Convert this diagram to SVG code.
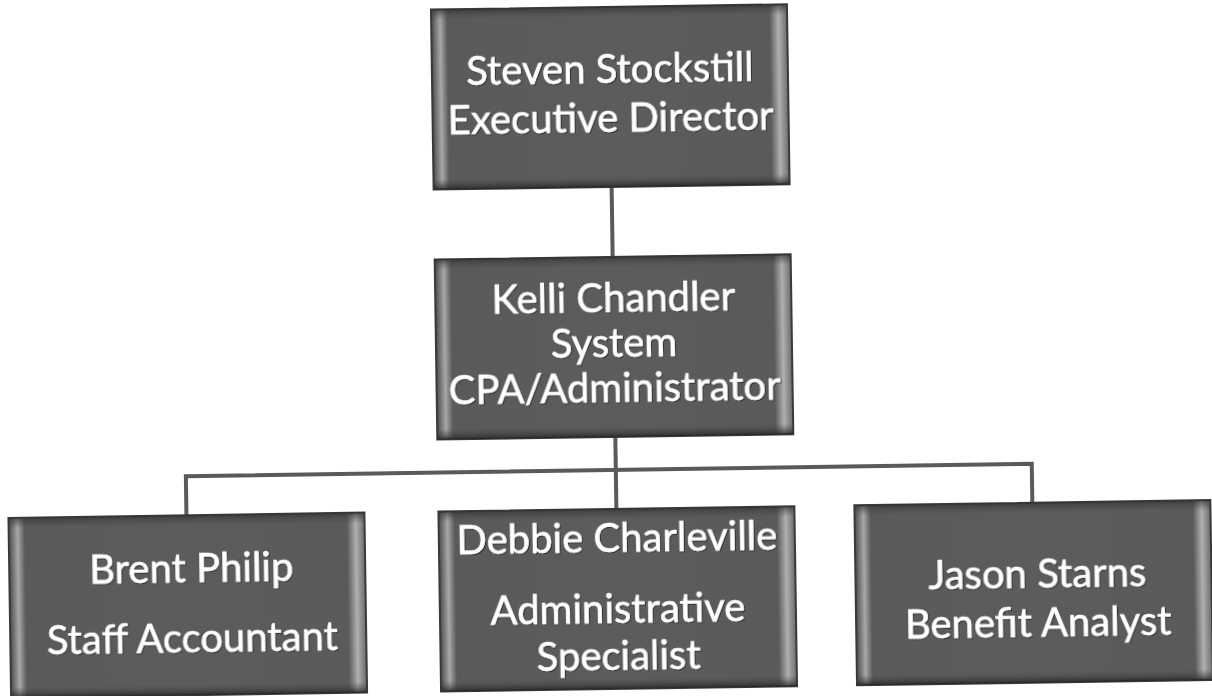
<svg xmlns="http://www.w3.org/2000/svg" width="1212" height="696" viewBox="0 0 1212 696">
  <style>
    .box { fill: url(#body); stroke: #3a3a3a; stroke-width: 2; }
    .bev { fill: url(#bevel); }
    .lbl { font-family: Lato, "Liberation Sans", Arial, sans-serif; font-size: 40px; fill: #ffffff; stroke: #ffffff; stroke-width: 0.5; text-anchor: middle; }
    .conn { fill: none; stroke: #5a5a5a; stroke-width: 4; }
  </style>
  <defs>
    <linearGradient id="body" x1="0" y1="0" x2="1" y2="0">
      <stop offset="0" stop-color="#4a4a4a"/>
      <stop offset="0.025" stop-color="#a8a8a8"/>
      <stop offset="0.045" stop-color="#5a5a5a"/>
      <stop offset="0.5" stop-color="#5c5c5c"/>
      <stop offset="0.95" stop-color="#5a5a5a"/>
      <stop offset="0.975" stop-color="#b0b0b0"/>
      <stop offset="1" stop-color="#6a6a6a"/>
    </linearGradient>
    <linearGradient id="bevel" x1="0" y1="0" x2="0" y2="1">
      <stop offset="0" stop-color="#2e2e2e" stop-opacity="0.7"/>
      <stop offset="0.06" stop-color="#4a4a4a" stop-opacity="0"/>
      <stop offset="0.94" stop-color="#4a4a4a" stop-opacity="0"/>
      <stop offset="1" stop-color="#222" stop-opacity="0.8"/>
    </linearGradient>
    <filter id="sh" x="-5%" y="-5%" width="110%" height="120%">
      <feDropShadow dx="1" dy="1" stdDeviation="0.6" flood-color="#222" flood-opacity="0.8"/>
    </filter>
  </defs>
  <rect width="1212" height="696" fill="#ffffff"/>
  <g transform="rotate(-0.85 606 348)">
    <g id="connectors">
      <path class="conn" d="M614 187 V257"/>
      <path class="conn" d="M614 437 V470"/>
      <path class="conn" d="M184 509 V470 H1030 V509"/>
      <path class="conn" d="M614 470 V509"/>
    </g>
    <g id="node-steven">
      <rect class="box" x="436" y="7" width="356" height="180"/>
      <rect class="bev" x="436" y="7" width="356" height="180"/>
      <g filter="url(#sh)">
        <text class="lbl" x="614" y="83">Steven Stockstill</text>
        <text class="lbl" x="614" y="132">Executive Director</text>
      </g>
    </g>
    <g id="node-kelli">
      <rect class="box" x="436" y="257" width="356" height="180"/>
      <rect class="bev" x="436" y="257" width="356" height="180"/>
      <g filter="url(#sh)">
        <text class="lbl" x="614" y="312">Kelli Chandler</text>
        <text class="lbl" x="614" y="357">System</text>
        <text class="lbl" x="614" y="402">CPA/Administrator</text>
      </g>
    </g>
    <g id="node-brent">
      <rect class="box" x="6" y="509" width="356" height="180"/>
      <rect class="bev" x="6" y="509" width="356" height="180"/>
      <g filter="url(#sh)">
        <text class="lbl" x="188" y="576">Brent Philip</text>
        <text class="lbl" x="188" y="646">Staff Accountant</text>
      </g>
    </g>
    <g id="node-debbie">
      <rect class="box" x="436" y="509" width="356" height="180"/>
      <rect class="bev" x="436" y="509" width="356" height="180"/>
      <g filter="url(#sh)">
        <text class="lbl" x="614" y="552">Debbie Charleville</text>
        <text class="lbl" x="614" y="623">Administrative</text>
        <text class="lbl" x="614" y="670">Specialist</text>
      </g>
    </g>
    <g id="node-jason">
      <rect class="box" x="852" y="509" width="356" height="180"/>
      <rect class="bev" x="852" y="509" width="356" height="180"/>
      <g filter="url(#sh)">
        <text class="lbl" x="1034" y="594">Jason Starns</text>
        <text class="lbl" x="1034" y="643">Benefit Analyst</text>
      </g>
    </g>
  </g>
</svg>
